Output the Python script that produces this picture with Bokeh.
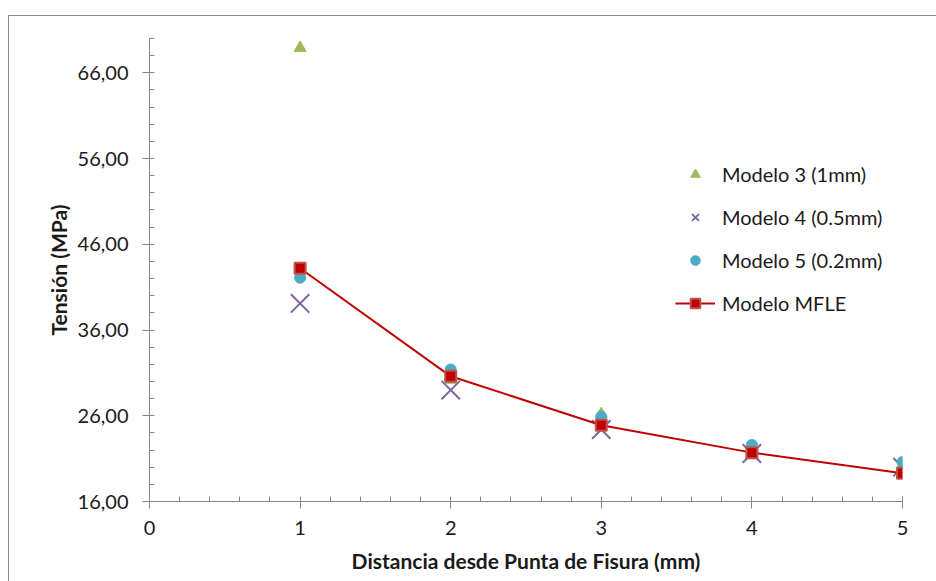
from bokeh.plotting import figure
from bokeh.models import Range1d, FixedTicker, Legend, LegendItem
from bokeh.embed import file_html
from bokeh.resources import INLINE

# ---- data ----
x_mm = [1, 2, 3, 4, 5]
modelo3 = [68.9, 30.2, 26.2, 22.0, 20.3]
modelo4 = [39.1, 29.0, 24.4, 21.6, 20.0]
modelo5 = [42.1, 31.4, 25.9, 22.6, 20.6]
mfle = [43.2, 30.6, 24.9, 21.7, 19.3]

y_major = [16, 26, 36, 46, 56, 66]
y_minor = [16, 18, 20, 22, 24, 26, 28, 30, 32, 34, 36, 38, 40, 42, 44, 46, 48, 50,
           52, 54, 56, 58, 60, 62, 64, 66, 68, 70]
y_labels = ["16,00", "26,00", "36,00", "46,00", "56,00", "66,00"]
x_major = [0, 1, 2, 3, 4, 5]
x_minor = [round(i * 0.2, 1) for i in range(26)]

series_names = ["Modelo 3 (1mm)", "Modelo 4 (0.5mm)", "Modelo 5 (0.2mm)", "Modelo MFLE"]

FONT = "Lato"
TXT = "#1a1a1a"
AX = "#868686"

p = figure(width=928, height=566, output_backend="svg", toolbar_location=None,
           x_range=Range1d(0, 5), y_range=Range1d(16, 70),
           min_border_left=140, min_border_right=35, min_border_top=22, min_border_bottom=81,
           margin=(15, 0, 0, 8))
p.styles = {"border-top": "1.5px solid #8c8c8c", "border-left": "1.5px solid #8c8c8c"}
p.outline_line_color = None
p.grid.visible = False
p.background_fill_color = "white"
p.border_fill_color = "white"

# axes
p.yaxis.ticker = FixedTicker(ticks=y_major, minor_ticks=y_minor)
p.yaxis.major_label_overrides = {v: s for v, s in zip(y_major, y_labels)}
p.xaxis.ticker = FixedTicker(ticks=x_major, minor_ticks=x_minor)
for ax in (p.xaxis[0], p.yaxis[0]):
    ax.axis_line_color = AX
    ax.major_tick_line_color = AX
    ax.minor_tick_line_color = AX
    ax.major_tick_out = 7
    ax.major_tick_in = 4
    ax.minor_tick_out = 0
    ax.minor_tick_in = 5
    ax.major_label_text_font = FONT
    ax.major_label_text_font_size = "20px"
    ax.major_label_text_color = TXT
    ax.axis_label_text_font = FONT
    ax.axis_label_text_font_size = "21px"
    ax.axis_label_text_font_style = "bold"
    ax.axis_label_text_color = TXT
p.yaxis.major_label_standoff = 14
p.xaxis.major_label_standoff = 12
p.yaxis.axis_label = "Tensión (MPa)"
p.xaxis.axis_label = "Distancia desde Punta de Fisura (mm)"
p.yaxis.axis_label_standoff = 4
p.xaxis.axis_label_standoff = 10

# glyphs
r3 = p.scatter(x_mm, modelo3, marker="triangle", size=12, fill_color="#9BBB59",
               line_color="#9BBB59")
r4 = p.scatter(x_mm, modelo4, marker="x", size=26, line_color="#8064A2", line_width=2)
r5 = p.scatter(x_mm, modelo5, marker="circle", size=11, fill_color="#4BACC6",
               line_color="#4BACC6")
rl = p.line(x_mm, mfle, line_color="#C00000", line_width=2)
rs = p.scatter(x_mm, mfle, marker="square", size=11, fill_color="#C00000",
               line_color="#C0504D", line_width=2)

legend = Legend(items=[
    LegendItem(label=series_names[0], renderers=[r3]),
    LegendItem(label=series_names[1], renderers=[r4]),
    LegendItem(label=series_names[2], renderers=[r5]),
    LegendItem(label=series_names[3], renderers=[rl, rs]),
], location=(526, 186))
legend.border_line_color = None
legend.background_fill_alpha = 0
legend.padding = 0
legend.margin = 0
legend.spacing = 19
legend.label_height = 24
legend.glyph_height = 24
legend.glyph_width = 40
legend.label_standoff = 7
legend.label_text_font = FONT
legend.label_text_font_size = "20px"
legend.label_text_color = TXT
p.add_layout(legend, "center")

open("out.html", "w").write(file_html(p, INLINE))
